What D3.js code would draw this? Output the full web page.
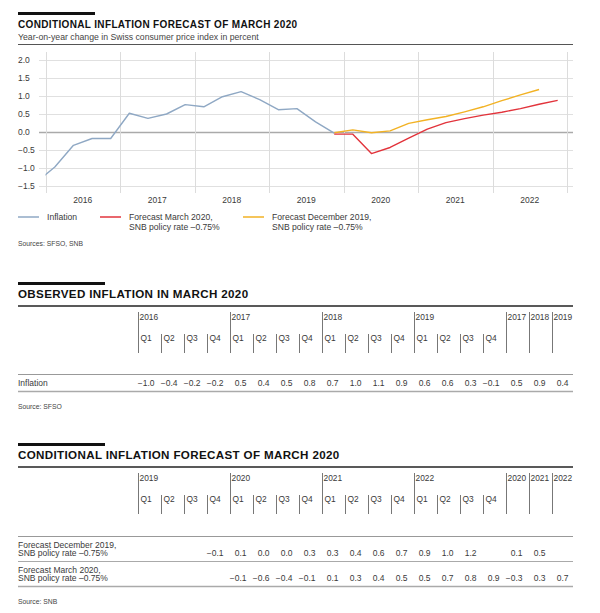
<!DOCTYPE html>
<html>
<head>
<meta charset="utf-8">
<script src="https://cdn.jsdelivr.net/npm/d3@7"></script>
<style>
    body { margin: 0; background: #fff; }
    svg { display: block; font-family: "Liberation Sans", Arial, sans-serif; }
</style>
</head>
<body>
<div id="chart"></div>
<script>
(function () {
    "use strict";

    // chart data (quarterly, y-o-y change in percent)
    var years = ["2016", "2017", "2018", "2019", "2020", "2021", "2022"];
    var yTicks = [2.0, 1.5, 1.0, 0.5, 0.0, -0.5, -1.0, -1.5];
    var inflationStart = "2015Q4";
    var inflation = [-1.4, -0.97, -0.37, -0.18, -0.18, 0.52, 0.38, 0.5, 0.76, 0.7, 0.98, 1.12, 0.9, 0.62, 0.65, 0.28, -0.03];
    var forecastStart = "2019Q4";
    var forecastMarch2020 = [-0.06, -0.06, -0.6, -0.43, -0.17, 0.08, 0.26, 0.37, 0.47, 0.55, 0.65, 0.77, 0.88];
    var forecastDec2019 = [-0.02, 0.06, -0.02, 0.03, 0.24, 0.34, 0.43, 0.56, 0.7, 0.87, 1.03, 1.18];

    // table data
    var quarters = ["Q1", "Q2", "Q3", "Q4"];
    var obsYears = ["2016", "2017", "2018", "2019"];
    var obsAnnualYears = ["2017", "2018", "2019"];
    var obsValues = [-1.0, -0.4, -0.2, -0.2, 0.5, 0.4, 0.5, 0.8, 0.7, 1.0, 1.1, 0.9, 0.6, 0.6, 0.3, -0.1];
    var obsAnnual = [0.5, 0.9, 0.4];
    var fcYears = ["2019", "2020", "2021", "2022"];
    var fcAnnualYears = ["2020", "2021", "2022"];
    var fcDec2019 = [null, null, null, -0.1, 0.1, 0.0, 0.0, 0.3, 0.3, 0.4, 0.6, 0.7, 0.9, 1.0, 1.2, null];
    var fcDec2019Annual = [0.1, 0.5, null];
    var fcMar2020 = [null, null, null, null, -0.1, -0.6, -0.4, -0.1, 0.1, 0.3, 0.4, 0.5, 0.5, 0.7, 0.8, 0.9];
    var fcMar2020Annual = [-0.3, 0.3, 0.7];

    var width = 600, height = 613;
    var textColor = "#3a3a3a";
    var blue = "#8fa8c4", red = "#e2343c", yellow = "#f2b224";
    var fmt = d3.format(".1f");

    var svg = d3.select("#chart").append("svg")
        .attr("width", width)
        .attr("height", height);

    function quarterTime(start, i) {
        var y = +start.slice(0, 4), q = +start.slice(5) - 1 + i;
        return y + Math.floor(q / 4) + ((q % 4) + 0.5) / 4;
    }

    function sectionHead(y, title, size) {
        svg.append("rect")
            .attr("x", 18).attr("y", y)
            .attr("width", y < 100 ? 77 : 87).attr("height", 3)
            .attr("fill", "#111");
        svg.append("text")
            .attr("x", 18).attr("y", y + 16)
            .attr("font-size", size)
            .attr("font-weight", "bold")
            .attr("letter-spacing", 0.35)
            .attr("fill", "#111")
            .text(title);
    }

    // ---- chart ----
    sectionHead(12, "CONDITIONAL INFLATION FORECAST OF MARCH 2020", 10);
    svg.append("text")
        .attr("x", 18).attr("y", 40)
        .attr("font-size", 8.7)
        .attr("fill", "#444")
        .text("Year-on-year change in Swiss consumer price index in percent");
    svg.append("line")
        .attr("x1", 18).attr("x2", 573)
        .attr("y1", 44.5).attr("y2", 44.5)
        .attr("stroke", "#555").attr("stroke-width", 1);

    var x = d3.scaleLinear().domain([2016, 2023]).range([45.5, 567]);
    var y = d3.scaleLinear().domain([-1.5, 2.0]).range([186, 60]);

    var grid = svg.append("g");
    grid.selectAll(".hgrid")
        .data(yTicks)
        .enter()
        .append("line")
        .attr("x1", 39).attr("x2", 573)
        .attr("y1", function (d) { return Math.round(y(d)) + 0.5; })
        .attr("y2", function (d) { return Math.round(y(d)) + 0.5; })
        .attr("stroke", function (d) { return d === 0 ? "#aaa" : "#e0e0e0"; })
        .attr("stroke-width", function (d) { return d === 0 ? 1.5 : 1; });

    grid.selectAll(".vgrid")
        .data(d3.range(2016, 2024))
        .enter()
        .append("line")
        .attr("x1", function (d) { return Math.round(x(d)) + 0.5; })
        .attr("x2", function (d) { return Math.round(x(d)) + 0.5; })
        .attr("y1", 52).attr("y2", 193)
        .attr("stroke", "#dcdcdc");

    svg.selectAll(".ylab")
        .data(yTicks)
        .enter()
        .append("text")
        .attr("x", 18)
        .attr("y", function (d) { return y(d) + 3; })
        .attr("font-size", 8.5)
        .attr("fill", textColor)
        .text(function (d) { return fmt(d); });

    svg.selectAll(".xlab")
        .data(years)
        .enter()
        .append("text")
        .attr("x", function (d) { return x(+d + 0.5); })
        .attr("y", 203)
        .attr("text-anchor", "middle")
        .attr("font-size", 8.5)
        .attr("fill", textColor)
        .text(function (d) { return d; });

    svg.append("clipPath").attr("id", "plotClip")
        .append("rect")
        .attr("x", x(2016)).attr("y", 50)
        .attr("width", 573 - x(2016)).attr("height", 150);

    function drawSeries(start, values, color) {
        var line = d3.line()
            .x(function (d, i) { return x(quarterTime(start, i)); })
            .y(function (d) { return y(d); });
        svg.append("path")
            .datum(values)
            .attr("clip-path", "url(#plotClip)")
            .attr("d", line)
            .attr("fill", "none")
            .attr("stroke", color)
            .attr("stroke-width", 1.4)
            .attr("stroke-linejoin", "round");
    }
    drawSeries(forecastStart, forecastDec2019, yellow);
    drawSeries(forecastStart, forecastMarch2020, red);
    drawSeries(inflationStart, inflation, blue);

    // legend
    var legendItems = [
        { color: blue, x: 18, lines: ["Inflation"] },
        { color: red, x: 100, lines: ["Forecast March 2020,", "SNB policy rate \u20130.75%"] },
        { color: yellow, x: 243, lines: ["Forecast December 2019,", "SNB policy rate \u20130.75%"] }
    ];
    var legend = svg.selectAll(".legend")
        .data(legendItems)
        .enter()
        .append("g")
        .attr("transform", function (d) { return "translate(" + d.x + ",217)"; });
    legend.append("line")
        .attr("x1", 0).attr("x2", 21)
        .attr("stroke", function (d) { return d.color; })
        .attr("stroke-width", 1.5);
    legend.selectAll("text")
        .data(function (d) { return d.lines; })
        .enter()
        .append("text")
        .attr("x", 29)
        .attr("y", function (d, i) { return 3 + i * 10; })
        .attr("font-size", 8.6)
        .attr("fill", textColor)
        .text(function (d) { return d; });

    svg.append("text")
        .attr("x", 18).attr("y", 246)
        .attr("font-size", 6.8)
        .attr("fill", "#444")
        .text("Sources: SFSO, SNB");

    // ---- tables ----
    var col = d3.scaleLinear().domain([0, 19]).range([138, 575]);

    function drawTable(top, title, yearList, annualYears, rows, source) {
        sectionHead(top, title, 11.6);
        var g = svg.append("g").attr("transform", "translate(0," + top + ")");
        g.append("line")
            .attr("x1", 18).attr("x2", 573)
            .attr("y1", 24).attr("y2", 24)
            .attr("stroke", "#222").attr("stroke-width", 1.5);

        var headers = [];
        yearList.forEach(function (yr, yi) {
            quarters.forEach(function (q, qi) {
                headers.push({ i: yi * 4 + qi, year: qi === 0 ? yr : null, q: q });
            });
        });
        annualYears.forEach(function (yr, ai) {
            headers.push({ i: 16 + ai, year: yr, q: null });
        });

        var h = g.selectAll(".head")
            .data(headers)
            .enter()
            .append("g")
            .attr("transform", function (d) { return "translate(" + (Math.round(col(d.i)) + 0.5) + ",0)"; });
        h.append("line")
            .attr("y1", function (d) { return d.year ? 30 : 52; })
            .attr("y2", 71)
            .attr("stroke", "#777");
        h.filter(function (d) { return d.year; })
            .append("text")
            .attr("x", 1).attr("y", 37.5)
            .attr("font-size", 8.4)
            .attr("fill", textColor)
            .text(function (d) { return d.year; });
        h.filter(function (d) { return d.q; })
            .append("text")
            .attr("x", 2).attr("y", 58.5)
            .attr("font-size", 8.4)
            .attr("fill", textColor)
            .text(function (d) { return d.q; });

        var rowTop = rows[0].labels.length > 1 ? 93 : 92;
        g.append("line")
            .attr("x1", 18).attr("x2", 573)
            .attr("y1", rowTop + 0.5).attr("y2", rowTop + 0.5)
            .attr("stroke", "#999");

        rows.forEach(function (row, ri) {
            var rh = row.labels.length > 1 ? 25 : 17;
            var base = rowTop + ri * rh;
            g.append("line")
                .attr("x1", 18).attr("x2", 573)
                .attr("y1", base + rh + 0.5).attr("y2", base + rh + 0.5)
                .attr("stroke", "#aaa").attr("stroke-width", ri === rows.length - 1 ? 1.5 : 1);
            g.selectAll(null)
                .data(row.labels)
                .enter()
                .append("text")
                .attr("x", 18)
                .attr("y", function (d, i) { return base + rh - 5 - (row.labels.length - 1 - i) * 8.5; })
                .attr("font-size", 8.5)
                .attr("fill", textColor)
                .text(function (d) { return d; });
            var cells = row.values.concat(row.annual).map(function (v, i) { return { i: i, v: v }; })
                .filter(function (d) { return d.v !== null; });
            g.selectAll(null)
                .data(cells)
                .enter()
                .append("text")
                .attr("x", function (d) { return col(d.i) + 16.5; })
                .attr("y", base + rh - 5)
                .attr("text-anchor", "end")
                .attr("font-size", 8.5)
                .attr("fill", textColor)
                .text(function (d) { return fmt(d.v); });
        });

        var last = rowTop + rows.reduce(function (s, r) { return s + (r.labels.length > 1 ? 25 : 17); }, 0);
        g.append("text")
            .attr("x", 18).attr("y", last + 18)
            .attr("font-size", 6.8)
            .attr("fill", "#444")
            .text(source);
    }

    drawTable(282, "OBSERVED INFLATION IN MARCH 2020", obsYears, obsAnnualYears, [
        { labels: ["Inflation"], values: obsValues, annual: obsAnnual }
    ], "Source: SFSO");

    drawTable(443, "CONDITIONAL INFLATION FORECAST OF MARCH 2020", fcYears, fcAnnualYears, [
        { labels: ["Forecast December 2019,", "SNB policy rate \u20130.75%"], values: fcDec2019, annual: fcDec2019Annual },
        { labels: ["Forecast March 2020,", "SNB policy rate \u20130.75%"], values: fcMar2020, annual: fcMar2020Annual }
    ], "Source: SNB");
})();
</script>
</body>
</html>
